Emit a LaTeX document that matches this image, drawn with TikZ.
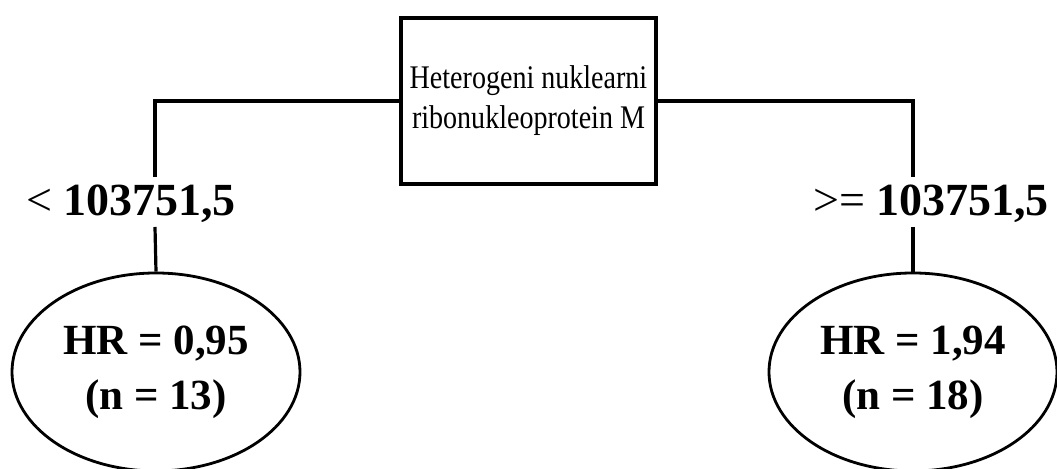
\documentclass[tikz,border=0pt]{standalone}
\usepackage{fontspec}
\setmainfont{Liberation Serif}
\newfontfamily\boxfont[FakeStretch=0.85]{Liberation Serif}
\usetikzlibrary{shapes.geometric}
\tikzset{rootbox/.style={draw,line width=1.6pt,minimum width=127.5pt,minimum height=83pt,inner sep=0pt,align=center,font=\boxfont\fontsize{16.5}{20}\selectfont}}
\tikzset{leafnode/.style={draw,ellipse,line width=1.4pt,minimum width=144pt,minimum height=99pt,inner sep=0pt,align=center,font=\bfseries\fontsize{21.5}{27.5}\selectfont}}
\tikzset{cutlabel/.style={inner sep=0pt,font=\bfseries\fontsize{23}{26}\selectfont}}
\tikzset{branch/.style={draw,line width=1.6pt}}
\begin{document}
\begin{tikzpicture}[x=0.5pt,y=-0.5pt]
    \useasboundingbox (0,0) rectangle (1057,469);
    
    \node[rootbox] (root) at (528.5,101) {Heterogeni nuklearni\\ribonukleoprotein M};
    \node[cutlabel] (lolab) at (131,204) {{\mdseries <} 103751,5};
    \node[cutlabel] (hilab) at (931,204) {{\mdseries >=} 103751,5};
    \node[leafnode] (loleaf) at (156,372) {HR = 0,95\\(n = 13)};
    \node[leafnode] (hileaf) at (913,372) {HR = 1,94\\(n = 18)};
    
    \coordinate (lotop) at (155,177);
    \coordinate (hitop) at (913,177);
    \coordinate (lobot) at (155,227);
    \coordinate (hibot) at (913,227);
    \draw[branch] (root.west) -| (lotop);
    \draw[branch] (root.east) -| (hitop);
    \draw[branch] (lobot) -- (loleaf.north);
    \draw[branch] (hibot) -- (hileaf.north);

\end{tikzpicture}
\end{document}
